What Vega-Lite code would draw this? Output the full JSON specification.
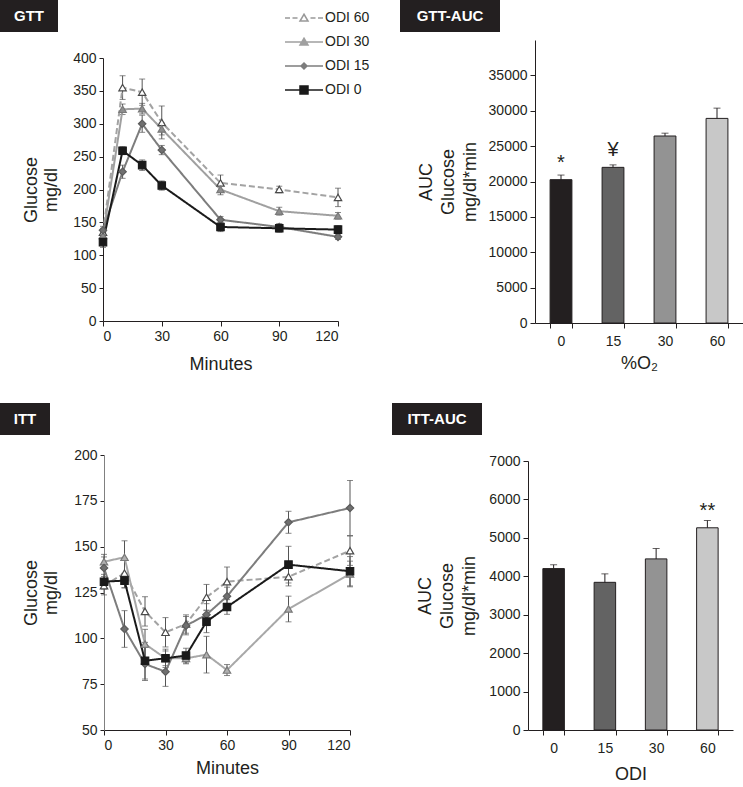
{
  "$schema": "https://vega.github.io/schema/vega-lite/v6.json",
  "padding": 0,
  "background": "white",
  "config": {
    "font": "Liberation Sans",
    "view": {"stroke": null},
    "axis": {
      "grid": false,
      "domainColor": "#231f20",
      "tickColor": "#231f20",
      "labelColor": "#231f20",
      "titleColor": "#231f20",
      "labelFontSize": 14,
      "titleFontSize": 18,
      "titleFontWeight": "normal",
      "tickSize": 5,
      "labelPadding": 3,
      "titleLineHeight": 20
    },
    "legend": {"labelColor": "#231f20", "labelFontSize": 14, "padding": 0}
  },
  "datasets": {
    "gtt": [
      {"group": "ODI 60", "min": 0, "glucose": 135, "sem": 6},
      {"group": "ODI 60", "min": 10, "glucose": 355, "sem": 18},
      {"group": "ODI 60", "min": 20, "glucose": 348, "sem": 20},
      {"group": "ODI 60", "min": 30, "glucose": 302, "sem": 25},
      {"group": "ODI 60", "min": 60, "glucose": 210, "sem": 12},
      {"group": "ODI 60", "min": 90, "glucose": 200, "sem": 5},
      {"group": "ODI 60", "min": 120, "glucose": 188, "sem": 14},
      {"group": "ODI 30", "min": 0, "glucose": 130, "sem": 5},
      {"group": "ODI 30", "min": 10, "glucose": 322, "sem": 8},
      {"group": "ODI 30", "min": 20, "glucose": 323, "sem": 8},
      {"group": "ODI 30", "min": 30, "glucose": 292, "sem": 9},
      {"group": "ODI 30", "min": 60, "glucose": 200, "sem": 8},
      {"group": "ODI 30", "min": 90, "glucose": 167, "sem": 6},
      {"group": "ODI 30", "min": 120, "glucose": 160, "sem": 5},
      {"group": "ODI 15", "min": 0, "glucose": 138, "sem": 6},
      {"group": "ODI 15", "min": 10, "glucose": 227, "sem": 10},
      {"group": "ODI 15", "min": 20, "glucose": 300, "sem": 13},
      {"group": "ODI 15", "min": 30, "glucose": 260, "sem": 7},
      {"group": "ODI 15", "min": 60, "glucose": 154, "sem": 5},
      {"group": "ODI 15", "min": 90, "glucose": 143, "sem": 5},
      {"group": "ODI 15", "min": 120, "glucose": 128, "sem": 4},
      {"group": "ODI 0", "min": 0, "glucose": 120, "sem": 8},
      {"group": "ODI 0", "min": 10, "glucose": 259, "sem": 6},
      {"group": "ODI 0", "min": 20, "glucose": 237, "sem": 8},
      {"group": "ODI 0", "min": 30, "glucose": 206, "sem": 7},
      {"group": "ODI 0", "min": 60, "glucose": 143, "sem": 7},
      {"group": "ODI 0", "min": 90, "glucose": 141, "sem": 6},
      {"group": "ODI 0", "min": 120, "glucose": 139, "sem": 6}
    ],
    "itt": [
      {"group": "ODI 60", "min": 0, "glucose": 128.7, "sem": 5},
      {"group": "ODI 60", "min": 10, "glucose": 135.6, "sem": 8},
      {"group": "ODI 60", "min": 20, "glucose": 114.7, "sem": 8},
      {"group": "ODI 60", "min": 30, "glucose": 103.3, "sem": 8},
      {"group": "ODI 60", "min": 40, "glucose": 107.8, "sem": 5},
      {"group": "ODI 60", "min": 50, "glucose": 122.4, "sem": 7},
      {"group": "ODI 60", "min": 60, "glucose": 130.9, "sem": 8},
      {"group": "ODI 60", "min": 90, "glucose": 133.6, "sem": 5},
      {"group": "ODI 60", "min": 120, "glucose": 147.8, "sem": 8},
      {"group": "ODI 30", "min": 0, "glucose": 141.8, "sem": 4},
      {"group": "ODI 30", "min": 10, "glucose": 144.2, "sem": 9},
      {"group": "ODI 30", "min": 20, "glucose": 96.9, "sem": 8},
      {"group": "ODI 30", "min": 30, "glucose": 89.1, "sem": 4},
      {"group": "ODI 30", "min": 40, "glucose": 89.1, "sem": 3},
      {"group": "ODI 30", "min": 50, "glucose": 91.1, "sem": 10},
      {"group": "ODI 30", "min": 60, "glucose": 82.7, "sem": 3},
      {"group": "ODI 30", "min": 90, "glucose": 116.0, "sem": 7},
      {"group": "ODI 30", "min": 120, "glucose": 135.1, "sem": 7},
      {"group": "ODI 15", "min": 0, "glucose": 138.4, "sem": 6},
      {"group": "ODI 15", "min": 10, "glucose": 105.1, "sem": 10},
      {"group": "ODI 15", "min": 20, "glucose": 86.0, "sem": 9},
      {"group": "ODI 15", "min": 30, "glucose": 81.8, "sem": 8},
      {"group": "ODI 15", "min": 40, "glucose": 106.9, "sem": 5},
      {"group": "ODI 15", "min": 50, "glucose": 112.9, "sem": 6},
      {"group": "ODI 15", "min": 60, "glucose": 122.9, "sem": 5},
      {"group": "ODI 15", "min": 90, "glucose": 163.3, "sem": 6},
      {"group": "ODI 15", "min": 120, "glucose": 171.1, "sem": 15},
      {"group": "ODI 0", "min": 0, "glucose": 130.9, "sem": 4},
      {"group": "ODI 0", "min": 10, "glucose": 131.5, "sem": 4},
      {"group": "ODI 0", "min": 20, "glucose": 87.8, "sem": 10},
      {"group": "ODI 0", "min": 30, "glucose": 89.1, "sem": 5},
      {"group": "ODI 0", "min": 40, "glucose": 90.6, "sem": 4},
      {"group": "ODI 0", "min": 50, "glucose": 109.1, "sem": 6},
      {"group": "ODI 0", "min": 60, "glucose": 117.1, "sem": 4},
      {"group": "ODI 0", "min": 90, "glucose": 140.2, "sem": 10},
      {"group": "ODI 0", "min": 120, "glucose": 136.6, "sem": 8}
    ],
    "gttauc": [
      {"cat": "0", "auc": 20260, "sem": 650, "sig": "*"},
      {"cat": "15", "auc": 22000, "sem": 350, "sig": "¥"},
      {"cat": "30", "auc": 26430, "sem": 400, "sig": ""},
      {"cat": "60", "auc": 28920, "sem": 1450, "sig": ""}
    ],
    "ittauc": [
      {"cat": "0", "auc": 4200, "sem": 100, "sig": ""},
      {"cat": "15", "auc": 3843, "sem": 220, "sig": ""},
      {"cat": "30", "auc": 4453, "sem": 270, "sig": ""},
      {"cat": "60", "auc": 5262, "sem": 190, "sig": "**"}
    ]
  },
  "resolve": {"scale": {"color": "independent"}},
  "spacing": 30,
  "vconcat": [
    {
      "spacing": 30,
      "resolve": {"scale": {"color": "independent"}},
      "hconcat": [
        {
          "spacing": -21,
          "resolve": {"scale": {"color": "independent"}},
          "vconcat": [
            {
              "width": 58, "height": 32,
              "view": {"fill": "#231f20", "stroke": null},
              "data": {"values": [{"label": "GTT"}]},
              "mark": {"type": "text", "color": "white", "fontWeight": "bold", "fontSize": 15},
              "encoding": {"text": {"field": "label"}}
            },
            {
              "spacing": 21,
              "resolve": {"scale": {"color": "independent"}},
              "hconcat": [
                {"width": 1, "height": 1, "data": {"values": []}, "mark": "point"},
                {
                  "width": 235, "height": 263,
                  "data": {"name": "gtt"},
                  "resolve": {"scale": {"shape": "independent", "fill": "independent", "stroke": "independent"}},
                  "encoding": {
                    "x": {"field": "min", "type": "quantitative", "scale": {"domain": [0, 120], "nice": false},
                          "axis": {"values": [0, 30, 60, 90, 120], "title": "Minutes", "titlePadding": 12}},
                    "y": {"field": "glucose", "type": "quantitative", "scale": {"domain": [0, 400], "nice": false},
                          "axis": {"values": [0, 50, 100, 150, 200, 250, 300, 350, 400], "title": ["Glucose", "mg/dl"], "titlePadding": 12, "tickSize": 4}}
                  },
                  "layer": [
                    {
                      "mark": {"type": "errorbar", "ticks": {"size": 6}, "thickness": 1, "color": "#555555"},
                      "encoding": {"yError": {"field": "sem"}, "detail": {"field": "group"}}
                    },
                    {
                      "mark": {"type": "line", "strokeWidth": 2},
                      "encoding": {
                        "color": {"field": "group", "type": "nominal",
                          "scale": {"domain": ["ODI 60", "ODI 30", "ODI 15", "ODI 0"], "range": ["#a3a3a3", "#a0a0a0", "#7d7d7d", "#1a1a1a"]},
                          "legend": null},
                        "strokeDash": {"field": "group", "type": "nominal",
                          "scale": {"domain": ["ODI 60", "ODI 30", "ODI 15", "ODI 0"], "range": [[6, 3], [1, 0], [1, 0], [1, 0]]}, "legend": null}
                      }
                    },
                    {
                      "mark": {"type": "point", "filled": true, "size": 55, "opacity": 1, "strokeWidth": 1.2},
                      "encoding": {
                        "shape": {"field": "group", "type": "nominal", "scale": {"domain": ["ODI 60", "ODI 30", "ODI 15", "ODI 0"], "range": ["triangle-up", "triangle-up", "diamond", "square"]}, "legend": null},
                        "fill": {"field": "group", "type": "nominal", "scale": {"domain": ["ODI 60", "ODI 30", "ODI 15", "ODI 0"], "range": ["white", "#8f8f8f", "#707070", "#1a1a1a"]}, "legend": null},
                        "stroke": {"field": "group", "type": "nominal", "scale": {"domain": ["ODI 60", "ODI 30", "ODI 15", "ODI 0"], "range": ["#4a4a4a", "#7a7a7a", "#5c5c5c", "#1a1a1a"]}, "legend": null}
                      }
                    },
                    {
                      "transform": [{"filter": "false"}],
                      "mark": {"type": "point", "filled": true},
                      "encoding": {
                        "shape": {"field": "group", "type": "nominal",
                          "scale": {"domain": ["ODI 60", "ODI 30", "ODI 15", "ODI 0"],
                                    "range": ["M-3.8,0H-2.8M-2.3,0H-1.3M1.3,0H2.3M2.8,0H3.8M0,-0.75L0.8,0.6L-0.8,0.6Z", "M-3.8,0H3.8M0,-0.75L0.8,0.6L-0.8,0.6Z", "M-3.8,0H3.8M0,-0.6L0.6,0L0,0.6L-0.6,0Z", "M-3.8,0H3.8M-0.8,-0.8H0.8V0.8H-0.8Z"]},
                          "legend": {"orient": "none", "legendX": 181, "legendY": -47, "title": null,
                                     "symbolSize": 100, "symbolStrokeWidth": 1.5, "symbolOffset": 13, "labelOffset": 14,
                                     "rowPadding": 10, "symbolOpacity": 1}},
                        "fill": {"field": "group", "type": "nominal",
                          "scale": {"domain": ["ODI 60", "ODI 30", "ODI 15", "ODI 0"], "range": ["white", "#a0a0a0", "#7d7d7d", "#1a1a1a"]}},
                        "stroke": {"field": "group", "type": "nominal",
                          "scale": {"domain": ["ODI 60", "ODI 30", "ODI 15", "ODI 0"], "range": ["#999999", "#a0a0a0", "#7d7d7d", "#1a1a1a"]}}
                      }
                    }
                  ]
                }
              ]
            }
          ]
        },
        {
          "spacing": 8,
          "resolve": {"scale": {"color": "independent"}},
          "vconcat": [
            {
              "width": 100, "height": 32,
              "view": {"fill": "#231f20", "stroke": null},
              "data": {"values": [{"label": "GTT-AUC"}]},
              "mark": {"type": "text", "color": "white", "fontWeight": "bold", "fontSize": 15},
              "encoding": {"text": {"field": "label"}}
            },
            {
              "spacing": 16,
              "resolve": {"scale": {"color": "independent"}},
              "hconcat": [
                {"width": 1, "height": 1, "data": {"values": []}, "mark": "point"},
                {
                  "width": 208, "height": 283,
                  "data": {"name": "gttauc"},
                  "encoding": {
                    "x": {"field": "cat", "type": "ordinal", "sort": null,
                          "scale": {"paddingInner": 0.58, "paddingOuter": 0.29},
                          "axis": {"title": "%O₂", "labelAngle": 0, "tickBand": "extent", "labelPadding": 6, "titlePadding": 6}},
                    "y": {"field": "auc", "type": "quantitative", "scale": {"domain": [0, 40000], "nice": false},
                          "axis": {"values": [0, 5000, 10000, 15000, 20000, 25000, 30000, 35000], "format": "d", "title": ["AUC", "Glucose", "mg/dl*min"], "titleLineHeight": 22, "titlePadding": 9}}
                  },
                  "layer": [
                    {"mark": {"type": "errorbar", "ticks": {"size": 7}, "color": "#231f20", "thickness": 1},
                     "encoding": {"yError": {"field": "sem"}}},
                    {"mark": {"type": "bar", "stroke": "#231f20", "strokeWidth": 1},
                     "encoding": {"color": {"field": "cat", "type": "nominal", "sort": null, "scale": {"domain": ["0", "15", "30", "60"], "range": ["#231f20", "#636363", "#939393", "#c8c8c8"]}, "legend": null}}},
                    {"mark": {"type": "text", "fontSize": 20, "baseline": "alphabetic", "dy": -11, "color": "#231f20"},
                     "encoding": {"text": {"field": "sig"}}}
                  ]
                }
              ]
            }
          ]
        }
      ]
    },
    {
      "spacing": 35,
      "resolve": {"scale": {"color": "independent"}},
      "hconcat": [
        {
          "spacing": 13,
          "resolve": {"scale": {"color": "independent"}},
          "vconcat": [
            {
              "width": 50, "height": 32,
              "view": {"fill": "#231f20", "stroke": null},
              "data": {"values": [{"label": "ITT"}]},
              "mark": {"type": "text", "color": "white", "fontWeight": "bold", "fontSize": 15},
              "encoding": {"text": {"field": "label"}}
            },
            {
              "spacing": 21,
              "resolve": {"scale": {"color": "independent"}},
              "hconcat": [
                {"width": 1, "height": 1, "data": {"values": []}, "mark": "point"},
                {
                  "width": 246, "height": 275,
                  "data": {"name": "itt"},
                  "encoding": {
                    "x": {"field": "min", "type": "quantitative", "scale": {"domain": [0, 120], "nice": false},
                          "axis": {"values": [0, 30, 60, 90, 120], "title": "Minutes", "titlePadding": 7}},
                    "y": {"field": "glucose", "type": "quantitative", "scale": {"domain": [50, 200], "nice": false, "zero": false},
                          "axis": {"values": [50, 75, 100, 125, 150, 175, 200], "title": ["Glucose", "mg/dl"], "titlePadding": 13, "tickSize": 4, "domainColor": "#808080"}}
                  },
                  "layer": [
                    {
                      "mark": {"type": "errorbar", "ticks": {"size": 6}, "thickness": 1, "color": "#555555"},
                      "encoding": {"yError": {"field": "sem"}, "detail": {"field": "group"}}
                    },
                    {
                      "mark": {"type": "line", "strokeWidth": 2},
                      "encoding": {
                        "color": {"field": "group", "type": "nominal",
                          "scale": {"domain": ["ODI 60", "ODI 30", "ODI 15", "ODI 0"], "range": ["#a3a3a3", "#a8a8a8", "#7d7d7d", "#1a1a1a"]},
                          "legend": null},
                        "strokeDash": {"field": "group", "type": "nominal",
                          "scale": {"domain": ["ODI 60", "ODI 30", "ODI 15", "ODI 0"], "range": [[6, 3], [1, 0], [1, 0], [1, 0]]}, "legend": null}
                      }
                    },
                    {
                      "mark": {"type": "point", "filled": true, "size": 55, "opacity": 1, "strokeWidth": 1.2},
                      "encoding": {
                        "shape": {"field": "group", "type": "nominal", "scale": {"domain": ["ODI 60", "ODI 30", "ODI 15", "ODI 0"], "range": ["triangle-up", "triangle-up", "diamond", "square"]}, "legend": null},
                        "fill": {"field": "group", "type": "nominal", "scale": {"domain": ["ODI 60", "ODI 30", "ODI 15", "ODI 0"], "range": ["white", "#b0b0b0", "#707070", "#1a1a1a"]}, "legend": null},
                        "stroke": {"field": "group", "type": "nominal", "scale": {"domain": ["ODI 60", "ODI 30", "ODI 15", "ODI 0"], "range": ["#4a4a4a", "#7a7a7a", "#5c5c5c", "#1a1a1a"]}, "legend": null}
                      }
                    }
                  ]
                }
              ]
            }
          ]
        },
        {
          "spacing": 19,
          "resolve": {"scale": {"color": "independent"}},
          "vconcat": [
            {
              "width": 90, "height": 32,
              "view": {"fill": "#231f20", "stroke": null},
              "data": {"values": [{"label": "ITT-AUC"}]},
              "mark": {"type": "text", "color": "white", "fontWeight": "bold", "fontSize": 15},
              "encoding": {"text": {"field": "label"}}
            },
            {
              "spacing": 23,
              "resolve": {"scale": {"color": "independent"}},
              "hconcat": [
                {"width": 1, "height": 1, "data": {"values": []}, "mark": "point"},
                {
                  "width": 205, "height": 269,
                  "data": {"name": "ittauc"},
                  "encoding": {
                    "x": {"field": "cat", "type": "ordinal", "sort": null,
                          "scale": {"paddingInner": 0.58, "paddingOuter": 0.29},
                          "axis": {"title": "ODI", "labelAngle": 0, "tickBand": "extent", "labelPadding": 6, "titlePadding": 10}},
                    "y": {"field": "auc", "type": "quantitative", "scale": {"domain": [0, 7000], "nice": false},
                          "axis": {"values": [0, 1000, 2000, 3000, 4000, 5000, 6000, 7000], "format": "d", "title": ["AUC", "Glucose", "mg/dl*min"], "titleLineHeight": 22, "titlePadding": 10}}
                  },
                  "layer": [
                    {"mark": {"type": "errorbar", "ticks": {"size": 7}, "color": "#231f20", "thickness": 1},
                     "encoding": {"yError": {"field": "sem"}}},
                    {"mark": {"type": "bar", "stroke": "#231f20", "strokeWidth": 1},
                     "encoding": {"color": {"field": "cat", "type": "nominal", "sort": null, "scale": {"domain": ["0", "15", "30", "60"], "range": ["#231f20", "#636363", "#939393", "#c8c8c8"]}, "legend": null}}},
                    {"mark": {"type": "text", "fontSize": 20, "baseline": "alphabetic", "dy": -11, "color": "#231f20"},
                     "encoding": {"text": {"field": "sig"}}}
                  ]
                }
              ]
            }
          ]
        }
      ]
    }
  ]
}
